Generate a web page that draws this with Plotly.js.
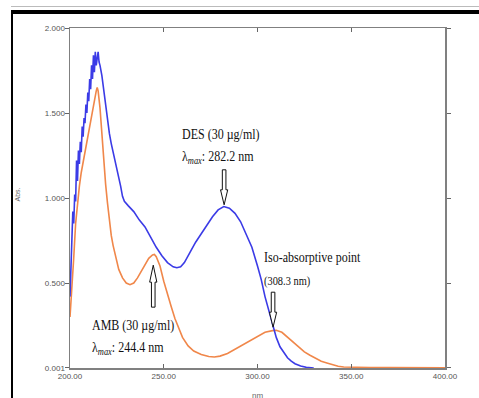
<!DOCTYPE html>
<html>
<head>
<meta charset="utf-8">
<script src="https://cdn.plot.ly/plotly-3.0.1.min.js"></script>
<style>
  html, body { margin: 0; padding: 0; background: #fff; }
  #chart { width: 479px; height: 398px; position: relative; }
  #frame { position: absolute; left: 11px; top: 10px; width: 468px; height: 400px;
           border-top: 4px solid #000; border-left: 2px solid #000; pointer-events: none; }
  #thin { position: absolute; left: 11px; top: 6px; width: 468px; height: 0;
          border-top: 1px solid #bbb; pointer-events: none; }
</style>
</head>
<body>
<div id="chart"></div>
<div id="thin"></div>
<div id="frame"></div>
<script>
// DES (30 µg/ml) spectrum
const desWavelength = [200, 200.5, 201, 201.5, 202, 202.5, 203, 203.5, 204, 204.5, 205, 205.5, 206, 206.5, 207, 207.5, 208, 208.5, 209, 209.5, 210, 210.5, 211, 211.5, 212, 212.5, 213, 213.5, 214, 214.5, 215, 215.5, 216, 217, 218, 219, 220, 221, 222, 223, 225, 227, 228, 229, 231, 234, 237, 240, 243, 246, 249, 252, 255, 257, 259, 261, 264, 267, 270, 273, 276, 279, 282, 285, 288, 291, 294, 297, 300, 302, 304, 306, 308, 310, 312, 314, 316, 318, 320, 323, 326, 330];
const desAbs = [0.42, 0.62, 0.70, 0.92, 0.85, 1.02, 0.98, 1.22, 1.10, 1.28, 1.20, 1.33, 1.27, 1.42, 1.36, 1.47, 1.44, 1.55, 1.50, 1.62, 1.57, 1.70, 1.64, 1.78, 1.70, 1.84, 1.74, 1.86, 1.78, 1.84, 1.86, 1.80, 1.78, 1.72, 1.63, 1.55, 1.46, 1.38, 1.32, 1.27, 1.18, 1.07, 1.01, 0.98, 0.955, 0.92, 0.87, 0.83, 0.77, 0.71, 0.66, 0.62, 0.595, 0.59, 0.595, 0.62, 0.68, 0.74, 0.79, 0.84, 0.89, 0.93, 0.95, 0.94, 0.91, 0.86, 0.79, 0.71, 0.60, 0.52, 0.42, 0.34, 0.25, 0.18, 0.125, 0.09, 0.06, 0.04, 0.025, 0.012, 0.004, 0.0];

// AMB (30 µg/ml) spectrum
const ambWavelength = [200, 201, 202, 203, 204, 205, 206, 207, 208, 209, 210, 211, 212, 213, 214, 214.5, 215, 216, 217, 218, 219, 220, 221, 222, 223, 224, 225, 226, 228, 230, 232, 234, 236, 238, 240, 242, 244, 245, 246, 248, 250, 252, 254, 256, 258, 260, 263, 266, 270, 274, 277, 280, 284, 288, 292, 296, 300, 304, 308, 310, 313, 316, 319, 322, 325, 328, 331, 334, 337, 340, 343, 346, 350, 360, 370, 380, 390, 400];
const ambAbs = [0.30, 0.45, 0.65, 0.85, 0.97, 1.07, 1.15, 1.21, 1.28, 1.34, 1.41, 1.47, 1.53, 1.58, 1.63, 1.65, 1.63, 1.53, 1.36, 1.20, 1.08, 0.97, 0.87, 0.78, 0.72, 0.67, 0.62, 0.58, 0.53, 0.50, 0.49, 0.50, 0.53, 0.57, 0.61, 0.645, 0.665, 0.668, 0.655, 0.60, 0.51, 0.43, 0.36, 0.29, 0.23, 0.18, 0.13, 0.10, 0.08, 0.068, 0.065, 0.07, 0.085, 0.11, 0.14, 0.165, 0.19, 0.21, 0.22, 0.222, 0.21, 0.18, 0.15, 0.12, 0.095, 0.075, 0.055, 0.04, 0.03, 0.02, 0.01, 0.006, 0.004, 0.003, 0.002, 0.002, 0.001, 0.001];

// axis ticks
const xTickVals = [200, 250, 300, 350, 400];
const xTickText = ["200.00", "250.00", "300.00", "350.00", "400.00"];
const yTickVals = [0.001, 0.5, 1.0, 1.5, 2.0];
const yTickText = ["0.001", "0.500", "1.000", "1.500", "2.000"];

// annotated wavelengths
const desLambdaMax = 282.2;
const ambLambdaMax = 244.4;
const isoPoint = 308.3;

const serif = "Liberation Serif, Times New Roman, serif";
const sans = "Liberation Sans, Arial, sans-serif";

function arrowDown(x, y) {
  return {
    type: "path", xref: "x", yref: "y",
    xsizemode: "pixel", ysizemode: "pixel", xanchor: x, yanchor: y,
    path: "M -1.8,35 L 1.8,35 L 1.8,15 L 3.6,15 L 0,0 L -3.6,15 L -1.8,15 Z",
    line: {color: "#111", width: 1}, fillcolor: "#fff"
  };
}
function arrowUp(x, y) {
  return {
    type: "path", xref: "x", yref: "y",
    xsizemode: "pixel", ysizemode: "pixel", xanchor: x, yanchor: y,
    path: "M 0,0 L 3.6,-17 L 1.8,-17 L 1.8,-42 L -1.8,-42 L -1.8,-17 L -3.6,-17 Z",
    line: {color: "#111", width: 1}, fillcolor: "#fff"
  };
}

const traces = [
  {x: ambWavelength, y: ambAbs, type: "scatter", mode: "lines",
   line: {color: "#f0874a", width: 1.6}, name: "AMB"},
  {x: desWavelength, y: desAbs, type: "scatter", mode: "lines",
   line: {color: "#3b3be6", width: 1.6}, name: "DES"}
];

function note(x, y, text, size) {
  return {x: x, y: y, xref: "x", yref: "y", xanchor: "left", yanchor: "middle", showarrow: false,
          text: text, font: {family: serif, size: size, color: "#111"}};
}

const layout = {
  width: 479, height: 398,
  margin: {l: 70, r: 34, t: 28, b: 30},
  paper_bgcolor: "#fff", plot_bgcolor: "#fff",
  showlegend: false,
  xaxis: {
    range: [200, 400], tickvals: xTickVals, ticktext: xTickText,
    showgrid: false, zeroline: false, showline: true, linecolor: "#808080", linewidth: 1.5,
    mirror: "ticks", ticks: "inside", ticklen: 4, tickcolor: "#666", tickwidth: 1,
    tickfont: {family: sans, size: 8, color: "#555"}
  },
  yaxis: {
    range: [0, 2], tickvals: yTickVals, ticktext: yTickText,
    showgrid: false, zeroline: false, showline: true, linecolor: "#808080", linewidth: 1.5,
    mirror: "ticks", ticks: "outside", ticklen: 4, tickcolor: "#666", tickwidth: 1,
    ticklabelstandoff: -2,
    tickfont: {family: sans, size: 8, color: "#555"}
  },
  annotations: [
    note(258.7, 1.375, "DES (30 µg/ml)", 15),
    note(258.7, 1.24, "λ<sub><i>max</i></sub>: " + desLambdaMax.toFixed(1) + " nm", 15),
    note(210.7, 0.25, "AMB (30 µg/ml)", 15),
    note(210.7, 0.118, "λ<sub><i>max</i></sub>: " + ambLambdaMax.toFixed(1) + " nm", 15),
    note(302.4, 0.655, "Iso-absorptive point", 15),
    note(302.4, 0.515, "(" + isoPoint.toFixed(1) + " nm)", 13),
    {x: -0.139, y: 0.51, xref: "paper", yref: "paper", xanchor: "center", yanchor: "middle", showarrow: false,
     textangle: -90, text: "Abs.", font: {family: sans, size: 7, color: "#666"}},
    {x: 0.501, y: -0.062, xref: "paper", yref: "paper", xanchor: "center", yanchor: "top", showarrow: false,
     text: "nm", font: {family: sans, size: 8, color: "#666"}}
  ],
  shapes: [
    arrowDown(desLambdaMax, 0.96),
    arrowUp(ambLambdaMax, 0.605),
    arrowDown(isoPoint, 0.24)
  ]
};

Plotly.newPlot("chart", traces, layout, {displayModeBar: false, staticPlot: true}).then(function (gd) {
  // the scanned labels are horizontally compressed serif text
  gd.querySelectorAll(".annotation").forEach(function (a, i) {
    if (i < 6) {
      const t = a.querySelector("text.annotation-text");
      if (t) {
        t.style.transformBox = "fill-box";
        t.style.transformOrigin = "0 50%";
        t.style.transform = "scaleX(0.8)";
      }
    }
  });
});
</script>
</body>
</html>
